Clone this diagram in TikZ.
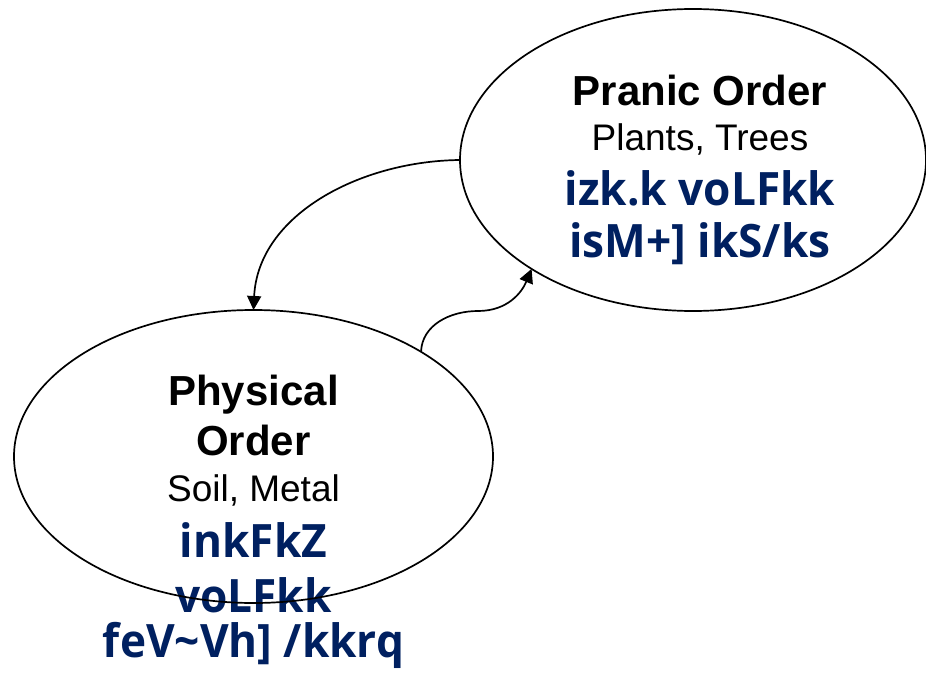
\documentclass[tikz,border=0pt]{standalone}
\usepackage{fontspec}
\setmainfont{Liberation Sans}
\newfontfamily\hin[FakeStretch=0.96]{Open Sans}
\usetikzlibrary{shapes.geometric,arrows.meta}
\definecolor{navy}{HTML}{002060}
\begin{document}
\begin{tikzpicture}[x=1pt,y=-1pt,
  orb/.style={draw, line width=1.7pt, ellipse, inner sep=0pt, outer sep=0pt},
  title/.style={font=\bfseries\fontsize{42}{48}\selectfont, anchor=base, inner sep=0pt},
  sub/.style={font=\fontsize{37}{44}\selectfont, anchor=base, inner sep=0pt},
  hindi/.style={font=\hin\bfseries\fontsize{46}{52}\selectfont, text=navy, anchor=base, inner sep=0pt},
  link/.style={line width=1.7pt, -{Triangle[length=14pt,width=14pt]}}]
\useasboundingbox (0,0) rectangle (926,677);
% texts of the upper ellipse
\node[title] (t1) at (700,105) {Pranic Order};
\node[sub]   (t2) at (700,150) {Plants, Trees};
\node[hindi] (t3) at (700,205) {izk.k voLFkk};
\node[hindi] (t4) at (700,257) {isM+] ikS/ks};
% texts of the lower ellipse
\node[title] (b1) at (253.5,405) {Physical};
\node[title] (b2) at (253.5,455) {Order};
\node[sub]   (b3) at (253.5,501) {Soil, Metal};
\node[hindi] (b4) at (253.5,557) {inkFkZ};
\node[hindi] (b5) at (253.5,612) {voLFkk};
\node[hindi] (b6) at (253.5,657) {feV\char`~Vh] /kkrq};
% ellipses
\node[orb, minimum width=466pt, minimum height=302pt] (top) at (693,160) {};
\node[orb, minimum width=479pt, minimum height=293pt] (bot) at (253.5,456.5) {};
% connectors
\draw[link] (top.180) .. controls (360,161) and (258,215) .. (bot.90);
\draw[link] (bot.32) .. controls (422,325) and (450,311) .. (478,311)
  .. controls (508,311) and (522,292) .. (top.214);
\end{tikzpicture}
\end{document}
